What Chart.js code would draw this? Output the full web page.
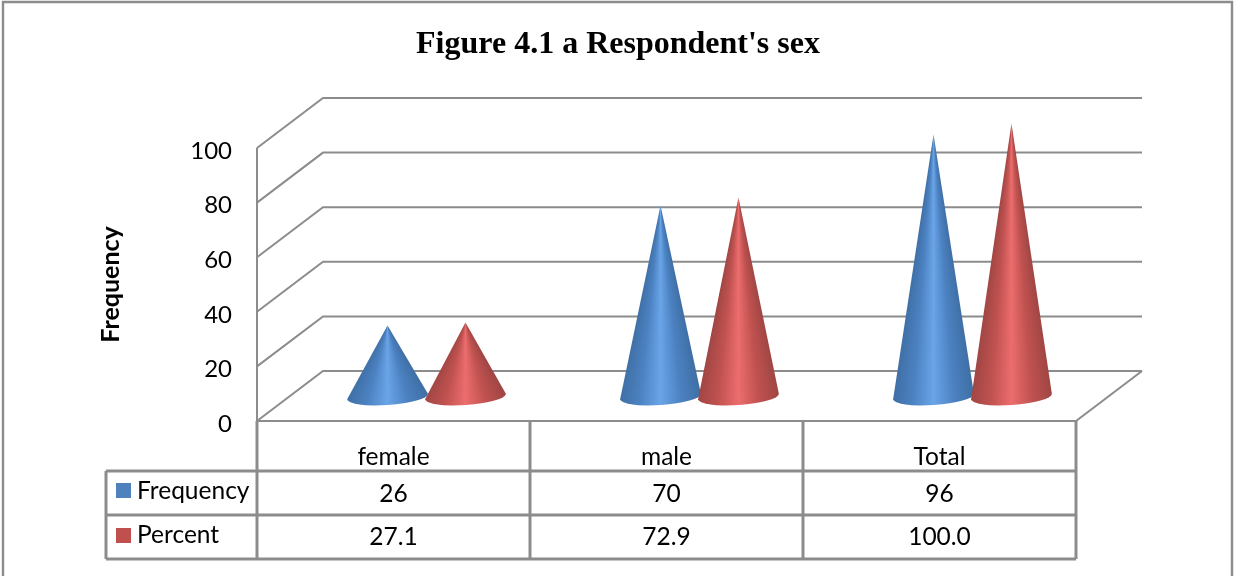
<!DOCTYPE html>
<html><head><meta charset="utf-8">
<style>html,body{margin:0;padding:0;background:#fff}#w{position:relative;width:1234px;height:576px}</style>
<script src="https://cdn.jsdelivr.net/npm/chart.js@4"></script>
</head><body><div id="w"><canvas id="c" width="1234" height="576"></canvas></div>
<script>
const titleText = "Figure 4.1 a Respondent's sex";
const axisTitle = "Frequency";
const categories = ["female", "male", "Total"];
const frequency = [26, 70, 96];
const percent = [27.1, 72.9, 100.0];
const frequencyLabels = ["26", "70", "96"];
const percentLabels = ["27.1", "72.9", "100.0"];
const yTicks = [0, 20, 40, 60, 80, 100];

const LINE = '#8c8c8c';
const UI_FONT = 'Lato';
const DEPTH_X = 66, DEPTH_Y = 50;

const palette = [
  {swatch:'#4f81bd', edge:'#3f6fa5', side:'#4c82c2', mid:'#6aa5e8'},
  {swatch:'#c0504d', edge:'#a04644', side:'#c05250', mid:'#ec6d6d'}
];

function line(ctx, pts, w, color){
  ctx.beginPath();
  pts.forEach((p,i)=> i?ctx.lineTo(p[0],p[1]):ctx.moveTo(p[0],p[1]));
  ctx.lineWidth=w; ctx.strokeStyle=color; ctx.lineJoin='miter'; ctx.stroke();
}

const scene = {
  id:'scene',
  afterLayout(chart){
    chart.titleBlock.left+=32; chart.titleBlock.right+=32;
    chart.scales.y.getLabelItems(chart.chartArea).forEach(it=>{it.options.translation[1]+=3;});
  },
  beforeDatasetsDraw(chart){
    const {ctx, scales:{y}, chartArea:a} = chart;
    ctx.save();
    // outer frame, open at the bottom
    line(ctx,[[3,576],[3,2],[1232,2],[1232,576]],2.4,LINE);
    // 3D walls from the y scale
    yTicks.forEach(v=>{
      const py=y.getPixelForValue(v);
      line(ctx,[[a.left,py],[a.left+DEPTH_X,py-DEPTH_Y],[a.right+DEPTH_X,py-DEPTH_Y]],2,LINE);
    });
    line(ctx,[[a.left,y.getPixelForValue(100)],[a.left,y.getPixelForValue(0)],[a.right,y.getPixelForValue(0)],[a.right+DEPTH_X,y.getPixelForValue(0)-DEPTH_Y]],2,LINE);
    ctx.restore();
  },
  afterDatasetsDraw(chart){
    const {ctx, chartArea:a} = chart;
    ctx.save();
    chart.data.datasets.forEach((ds,di)=>{
      const c=palette[di];
      chart.getDatasetMeta(di).data.forEach(bar=>{
        const cx=bar.x+DEPTH_X/2, by=bar.base-DEPTH_Y/2+0.5, ty=bar.y-DEPTH_Y/2+0.5;
        const rx=40.5, ry=8.5, rot=-0.07;
        const half=Math.atan2(rx,by-ty);
        const span=2*half/(2*Math.PI);
        const g=ctx.createConicGradient(Math.PI/2-half,cx,ty);
        g.addColorStop(0,c.edge); g.addColorStop(span*0.25,c.side); g.addColorStop(span*0.5,c.mid);
        g.addColorStop(span*0.75,c.side); g.addColorStop(span,c.edge); g.addColorStop(Math.min(1,span+0.02),c.edge);
        g.addColorStop(1,c.edge);
        ctx.beginPath();
        ctx.moveTo(cx,ty);
        ctx.lineTo(cx+rx*Math.cos(rot),by+rx*Math.sin(rot));
        ctx.ellipse(cx,by,rx,ry,rot,0,Math.PI);
        ctx.closePath();
        ctx.fillStyle=g; ctx.fill();
      });
    });
    // data table
    const col=[a.left,a.left+273,a.left+546,a.right];
    const rows=[471,515,559], left=106, top=a.bottom;
    rows.forEach(r=>line(ctx,[[left,r],[a.right,r]],3,LINE));
    line(ctx,[[left,rows[0]],[left,rows[2]]],3,LINE);
    col.forEach(x=>line(ctx,[[x,top],[x,rows[2]]],3,LINE));
    ctx.fillStyle='#000'; ctx.textBaseline='middle';
    ctx.font='24.5px '+UI_FONT;
    ctx.textAlign='center';
    [frequencyLabels,percentLabels].forEach((vals,ri)=>{
      vals.forEach((t,i)=>ctx.fillText(t,(col[i]+col[i+1])/2,[494,537][ri]));
    });
    ctx.textAlign='left';
    chart.data.datasets.forEach((ds,di)=>{
      ctx.fillStyle=palette[di].swatch;
      ctx.fillRect(116,[483,528][di],15,15);
      ctx.fillStyle='#000';
      ctx.fillText(ds.label,137,[491,535][di]);
    });
    ctx.restore();
  }
};

new Chart(document.getElementById('c'),{
  type:'bar',
  data:{labels:categories,datasets:[
    {label:'Frequency',data:frequency,backgroundColor:'rgba(0,0,0,0)',borderWidth:0},
    {label:'Percent',data:percent,backgroundColor:'rgba(0,0,0,0)',borderWidth:0}
  ]},
  plugins:[scene],
  options:{
    responsive:false,animation:false,
    categoryPercentage:0.571,barPercentage:1,
    layout:{padding:{left:96,right:158,top:0,bottom:0}},
    plugins:{
      legend:{display:false},tooltip:{enabled:false},
      title:{display:true,text:titleText,color:'#000',
        font:{family:'Liberation Serif',size:32,weight:'bold',lineHeight:1.2},
        padding:{top:26,bottom:83.6}}
    },
    scales:{
      x:{
        grid:{display:false,drawTicks:false},border:{display:false},
        ticks:{color:'#000',font:{family:UI_FONT,size:24.5},padding:21,maxRotation:0},
        afterFit(s){s.height=155;}
      },
      y:{
        min:0,max:100,
        grid:{display:false,drawTicks:false},border:{display:false},
        afterBuildTicks(s){s.ticks=yTicks.map(v=>({value:v}));},
        ticks:{color:'#000',font:{family:UI_FONT,size:24},padding:25},
        title:{display:true,text:axisTitle,color:'#000',font:{family:UI_FONT,size:25,weight:'bold'},padding:{top:0,bottom:0}},
        afterFit(s){s.width=161;}
      }
    }
  }
});
</script></body></html>
